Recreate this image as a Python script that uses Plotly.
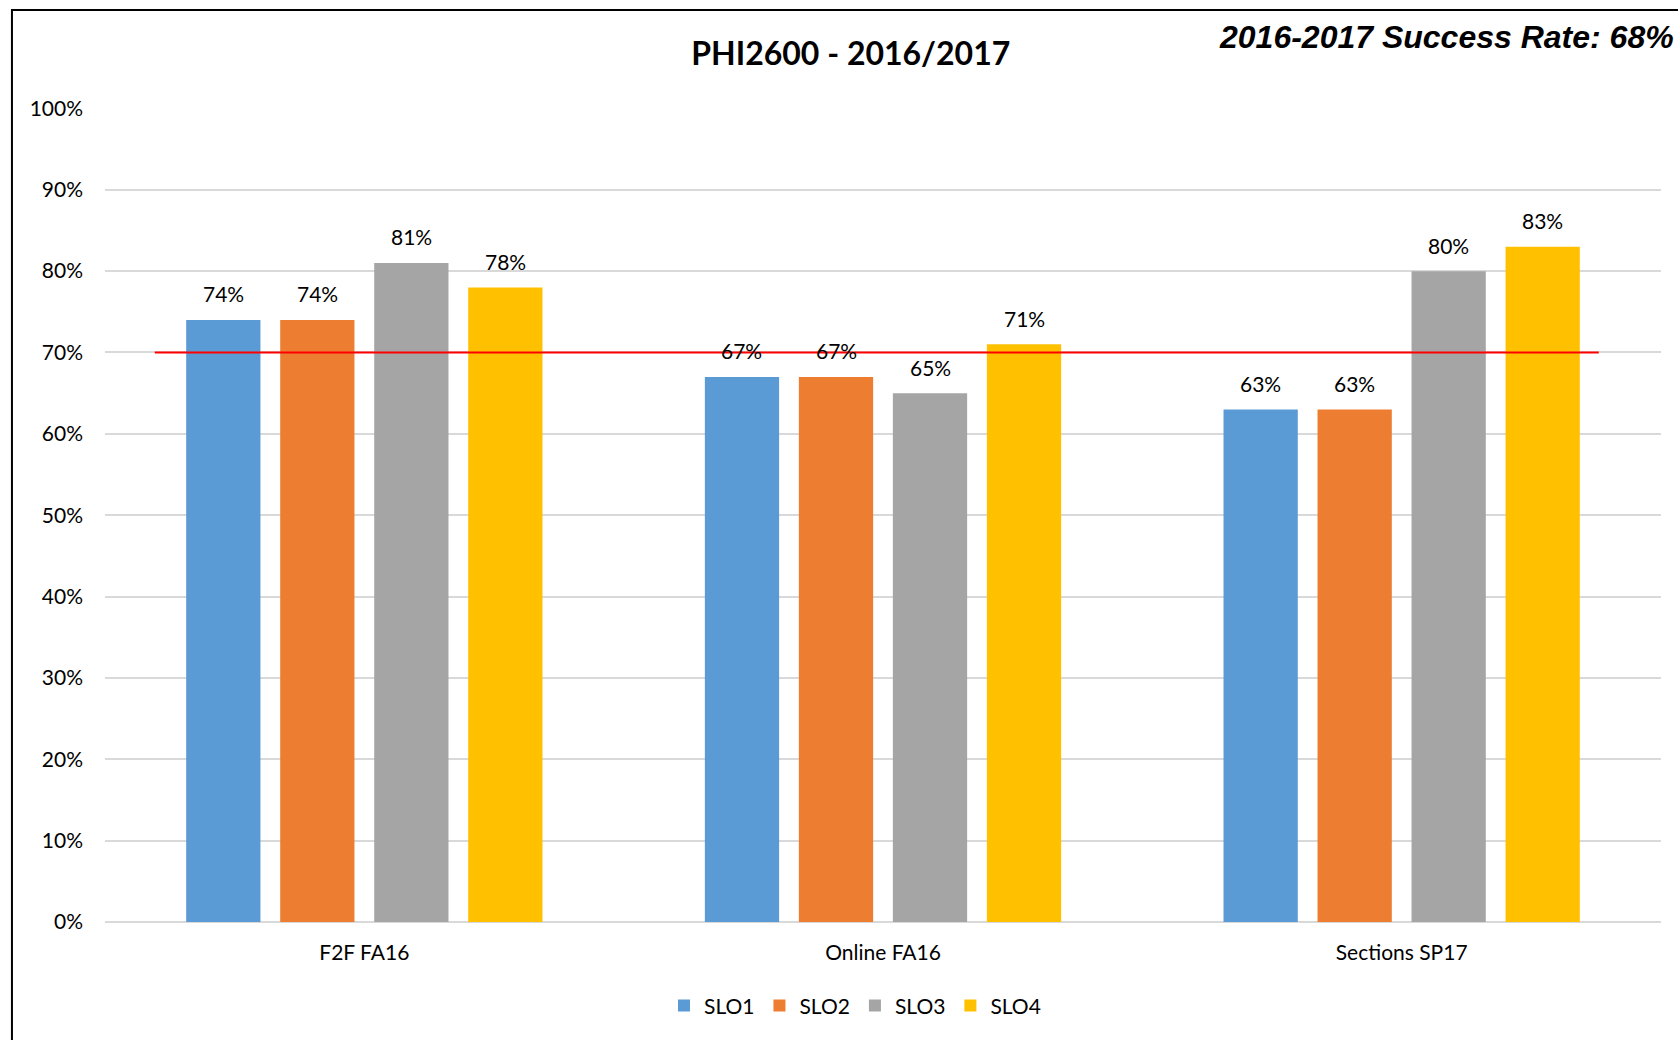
import plotly.graph_objects as go

# data
categories = ["F2F FA16", "Online FA16", "Sections SP17"]
series_names = ["SLO1", "SLO2", "SLO3", "SLO4"]
slo1 = [0.74, 0.67, 0.63]
slo2 = [0.74, 0.67, 0.63]
slo3 = [0.81, 0.65, 0.80]
slo4 = [0.78, 0.71, 0.83]
target = 0.70
y_ticks = [0, 0.1, 0.2, 0.3, 0.4, 0.5, 0.6, 0.7, 0.8, 0.9, 1.0]

colors = ["#5B9BD5", "#ED7D31", "#A5A5A5", "#FFC000"]
font = "Lato, Calibri, sans-serif"
bargap = 0.275

fig = go.Figure()
all_vals = [slo1, slo2, slo3, slo4]
for name, vals, col in zip(series_names, all_vals, colors):
    fig.add_trace(go.Bar(
        x=categories, y=vals, name=name,
        marker=dict(color=col, line=dict(width=0)),
    ))

# data labels, placed over each bar of the group
slot = (1 - bargap) / len(series_names)
for j, vals in enumerate(all_vals):
    for i, v in enumerate(vals):
        fig.add_annotation(x=i + (j - 1.5) * slot, y=v, text=f"{v:.0%}",
                           xref="x", yref="y", showarrow=False,
                           yanchor="middle", yshift=26,
                           font=dict(family=font, size=21, color="#000000"))

# 70% target line
fig.add_shape(type="line", xref="x", yref="y", x0=-0.404, x1=2.38,
              y0=target, y1=target, line=dict(color="#FF0000", width=2),
              layer="above")

# chart border (runs off the right and bottom edges)
fig.add_shape(type="rect", xref="paper", yref="paper",
              x0=-0.0598, x1=1.2, y0=-0.3, y1=1.1204,
              line=dict(color="#000000", width=2), layer="below")

fig.add_annotation(text="<b><i>2016-2017 Success Rate: 68%</i></b>",
                   xref="paper", yref="paper", x=1.0096, y=1.0876,
                   xanchor="right", yanchor="middle", showarrow=False,
                   font=dict(family="Liberation Sans, Arial", size=32, color="#000000"))

fig.update_layout(
    width=1678, height=1040,
    margin=dict(l=105, r=17, t=108, b=118),
    paper_bgcolor="white", plot_bgcolor="white",
    title=dict(text="<b>PHI2600 - 2016/2017</b>", x=0.507, xref="container",
               y=0.9486, yref="container", xanchor="center", yanchor="middle",
               font=dict(family=font, size=32, color="#000000")),
    barmode="group", bargap=bargap, bargroupgap=0.21,
    showlegend=True,
    legend=dict(orientation="h", x=0.482, xanchor="center", y=-0.103,
                yanchor="middle", font=dict(family=font, size=21, color="#000000"),
                itemwidth=30, traceorder="normal"),
    font=dict(family=font, color="#000000"),
)
fig.update_xaxes(range=[-0.5, 2.5], showgrid=False, showline=False,
                 ticks="", tickfont=dict(family=font, size=21, color="#000000"),
                 ticklabelstandoff=16)
fig.update_yaxes(range=[0, 1.0005], tickvals=y_ticks, tickformat=".0%",
                 showgrid=True, gridcolor="#D9D9D9", gridwidth=2,
                 zeroline=True, zerolinecolor="#D9D9D9", zerolinewidth=2,
                 showline=False, ticks="",
                 tickfont=dict(family=font, size=21, color="#000000"),
                 ticklabelstandoff=21)

fig.write_html("out.html", config={"displayModeBar": False},
               post_script="document.body.style.margin='0';")
